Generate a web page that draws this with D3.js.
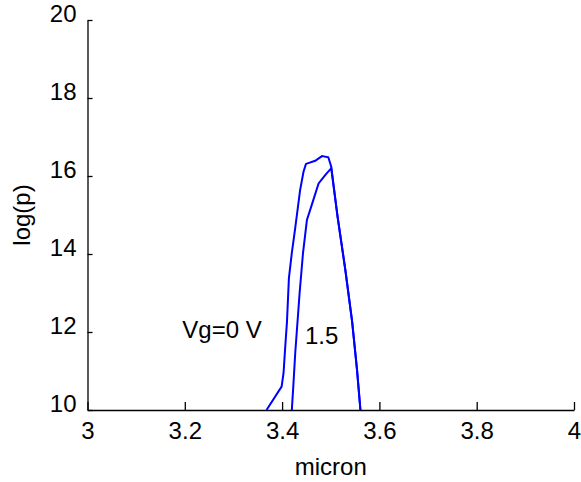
<!DOCTYPE html>
<html><head><meta charset="utf-8">
<script src="https://cdn.jsdelivr.net/npm/d3@7"></script>
<style>
html,body{margin:0;padding:0;background:#fff;}
text{font-family:"Liberation Sans",Arial,sans-serif;fill:#000;}
</style></head>
<body><svg id="c" width="581" height="482"></svg>
<script>
const xTicks = [3, 3.2, 3.4, 3.6, 3.8, 4];
const xTickLabels = ["3", "3.2", "3.4", "3.6", "3.8", "4"];
const yTicks = [10, 12, 14, 16, 18, 20];
const yTickLabels = ["10", "12", "14", "16", "18", "20"];

// Vg = 0 V curve
const vg0X = [3.368, 3.399, 3.403, 3.406, 3.410, 3.414, 3.420, 3.427, 3.437, 3.444, 3.449, 3.468, 3.482, 3.495, 3.501, 3.514, 3.530, 3.544, 3.554, 3.561];
const vg0Y = [10.0, 10.60, 10.95, 11.54, 12.26, 13.38, 14.03, 14.67, 15.64, 16.11, 16.31, 16.39, 16.51, 16.48, 16.24, 14.96, 13.59, 12.26, 11.03, 10.0];
// Vg = 1.5 V curve
const vg15X = [3.420, 3.423, 3.427, 3.436, 3.443, 3.451, 3.461, 3.475, 3.489, 3.501, 3.514, 3.530, 3.544, 3.554, 3.561];
const vg15Y = [10.0, 10.60, 11.46, 13.0, 14.03, 14.87, 15.26, 15.81, 16.03, 16.20, 14.96, 13.59, 12.26, 11.03, 10.0];

const labels = [{t:"Vg=0 V", x:3.195, y:11.85}, {t:"1.5", x:3.447, y:11.7}];

const svg = d3.select("#c");
const L = 87.5, R = 574, T = 20, B = 410;
const x = d3.scaleLinear().domain([3, 4]).range([L, R]);
const y = d3.scaleLinear().domain([10, 20]).range([B, T]);

const xAxis = d3.axisBottom(x).tickValues(xTicks).tickFormat((d,i)=>xTickLabels[i]).tickSizeInner(-8).tickSizeOuter(0).tickPadding(14);
const yAxis = d3.axisLeft(y).tickValues(yTicks).tickFormat((d,i)=>yTickLabels[i]).tickSizeInner(-5).tickSizeOuter(0).tickPadding(11);

const gx = svg.append("g").attr("transform", `translate(0,${B})`).call(xAxis);
const gy = svg.append("g").attr("transform", `translate(${L},0)`).call(yAxis);
[gx, gy].forEach(g => {
  g.selectAll("path.domain").attr("stroke", "#000").attr("stroke-width", 1.3);
  g.selectAll(".tick line").attr("stroke", "#000").attr("stroke-width", 1.3);
  g.selectAll(".tick text").attr("font-size", 24).attr("font-family", "'Liberation Sans',Arial,sans-serif").attr("fill", "#000");
});
gx.selectAll(".tick text").attr("dy", "0.62em");
gy.selectAll(".tick text").attr("dy", "0.06em");

const line = d3.line().x(d => x(d[0])).y(d => y(d[1]));
svg.append("path").datum(vg0X.map((v,i)=>[v, vg0Y[i]]))
  .attr("d", line).attr("fill", "none").attr("stroke", "#0000ff").attr("stroke-width", 2);
svg.append("path").datum(vg15X.map((v,i)=>[v, vg15Y[i]]))
  .attr("d", line).attr("fill", "none").attr("stroke", "#0000ff").attr("stroke-width", 2);

svg.selectAll("text.lab").data(labels).enter().append("text").attr("class","lab")
  .attr("x", d => x(d.x)).attr("y", d => y(d.y)).attr("font-size", 24).text(d => d.t);

svg.append("text").attr("x", (L+R)/2).attr("y", 475).attr("text-anchor", "middle").attr("font-size", 24).text("micron");
svg.append("text").attr("transform", `translate(30,${(T+B)/2}) rotate(-90)`).attr("text-anchor", "middle").attr("font-size", 24).text("log(p)");
</script></body></html>
